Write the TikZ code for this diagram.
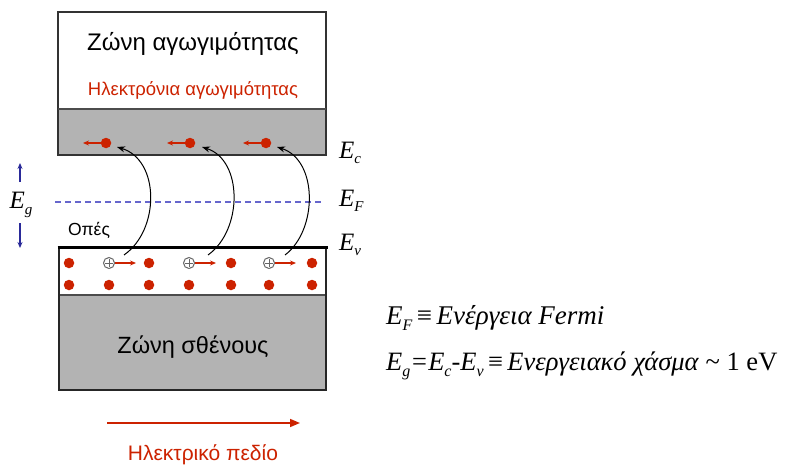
\documentclass[tikz,border=0pt]{standalone}
\usepackage{fontspec}
\setmainfont{Liberation Serif}
\newfontfamily\gsans{Liberation Sans}
\usetikzlibrary{arrows.meta}
\definecolor{myred}{HTML}{CC2200}
\definecolor{bandgray}{HTML}{B3B3B3}
\definecolor{fermiblue}{HTML}{6666CC}
\definecolor{darkblue}{HTML}{2A2A99}
\tikzset{
  elec/.style={circle,fill=myred,inner sep=0pt,minimum size=10.5pt},
  hole/.style={circle,draw=black!60,fill=white,line width=1pt,inner sep=0pt,minimum size=11pt,
    path picture={\draw[line width=0.8pt] ([xshift=-3.8pt]path picture bounding box.center)--([xshift=3.8pt]path picture bounding box.center);
                  \draw[line width=0.8pt] ([yshift=-3.8pt]path picture bounding box.center)--([yshift=3.8pt]path picture bounding box.center);}},
  redarr/.style={myred,line width=1.2pt,-{Stealth[length=6pt,width=5pt]}},
  jump/.style={black,line width=1pt,-{Stealth[length=8pt,width=6pt]}},
  elabel/.style={font=\fontsize{25}{27}\selectfont\itshape,anchor=west,inner sep=0pt},
  bandtxt/.style={font=\gsans\fontsize{23.5}{26}\selectfont,inner sep=0pt}
}
\begin{document}
\begin{tikzpicture}[x=1pt,y=-1pt]
\useasboundingbox (0,0) rectangle (786,468);
% conduction band
\fill[bandgray] (58,109) rectangle (326,155);
\draw[black!80,line width=1.5pt] (58,12) rectangle (326,155);
\draw[black!70,line width=1.2pt] (58,109) -- (326,109);
\node[bandtxt,font=\gsans\fontsize{24}{26}\selectfont] (cbt) at (193,44) {Ζώνη αγωγιμότητας};
\node[bandtxt,font=\gsans\fontsize{18.5}{20}\selectfont,text=myred] (cbe) at (193,90) {Ηλεκτρόνια αγωγιμότητας};
% valence band
\fill[bandgray] (59,295) rectangle (326,390);
\draw[black!70,line width=1.2pt] (59,295) -- (326,295);
\draw[black!85,line width=1.5pt] (59,247) -- (59,390) -- (326,390) -- (326,247);
\draw[black,line width=3pt] (57.5,247) -- (327.5,247);
\node[bandtxt] (vbt) at (193,347) {Ζώνη σθένους};
% fermi level
\draw[fermiblue,line width=1.2pt,dash pattern=on 6pt off 4pt] (55,202) -- (323,202);
% CB electrons
\foreach \i/\x in {1/106,2/190,3/266}{
  \node[elec] (ce\i) at (\x,143) {};
  \coordinate (cl\i) at (\x-23,143);
  \draw[redarr] (ce\i.west) -- (cl\i);
}
% VB row 1
\node[elec] (d1) at (69,263) {};
\node[hole] (h1) at (109,263) {};
\node[elec] (d2) at (149,263) {};
\node[hole] (h2) at (189,263) {};
\node[elec] (d3) at (231,263) {};
\node[hole] (h3) at (269,263) {};
\node[elec] (d4) at (312,263) {};
\foreach \i in {1,2,3}{
  \coordinate (hr\i) at ([xshift=27pt]h\i.center);
  \draw[redarr] (h\i.east) -- (hr\i);
}
% VB row 2
\foreach \i/\x in {1/69,2/109,3/149,4/189,5/231,6/269,7/312}{
  \node[elec] (r\i) at (\x,285) {};
}
% jumps
\draw[jump] ([shift={(15,-8)}]h1.center) .. controls (160,230) and (160,160) .. ([shift={(11,4)}]ce1.center);
\draw[jump] ([shift={(19,-8)}]h2.center) .. controls (243,230) and (243,160) .. ([shift={(12,4)}]ce2.center);
\draw[jump] ([shift={(16,-8)}]h3.center) .. controls (318,230) and (318,160) .. ([shift={(11,4)}]ce3.center);
% labels
\node[font=\gsans\fontsize{17.5}{19}\selectfont,inner sep=0pt] (ops) at (89,230) {Οπές};
\node[elabel] (ec) at (339,153) {E\raisebox{-0.45ex}{\fontsize{15}{16}\selectfont c}};
\node[elabel] (ef) at (339,201) {E\raisebox{-0.45ex}{\fontsize{15}{16}\selectfont F}};
\node[elabel] (ev) at (339,245) {E\raisebox{-0.45ex}{\fontsize{15}{16}\selectfont ν}};
\node[elabel,anchor=center] (eg) at (21,205) {E\raisebox{-0.5ex}{\fontsize{15}{16}\selectfont g}};
\coordinate (ua) at (20,182); \coordinate (ub) at (20,163);
\coordinate (da) at (20,223); \coordinate (db) at (20,248);
\draw[darkblue,line width=1.2pt,-{Stealth[length=6pt,width=5pt]}] (ua) -- (ub);
\draw[darkblue,line width=1.2pt,-{Stealth[length=6pt,width=5pt]}] (da) -- (db);
% equations
\node[anchor=west,inner sep=0pt,font=\fontsize{27}{29}\selectfont] (eq1) at (386,318)
  {\textit{E\raisebox{-0.45ex}{\fontsize{16}{17}\selectfont F}}\,≡\,\textit{Ενέργεια Fermi}};
\node[anchor=west,inner sep=0pt,font=\fontsize{26.5}{29}\selectfont] (eq2) at (386,366)
  {\textit{E\raisebox{-0.45ex}{\fontsize{16}{17}\selectfont g}=E\raisebox{-0.45ex}{\fontsize{16}{17}\selectfont c}-E\raisebox{-0.45ex}{\fontsize{16}{17}\selectfont ν}}\,≡\,\textit{Ενεργειακό χάσμα} \textasciitilde\ 1 eV};
% electric field
\coordinate (fa) at (107,423); \coordinate (fb) at (300,423);
\draw[myred,line width=1.5pt,-{Triangle[length=10pt,width=8pt]}] (fa) -- (fb);
\node[font=\gsans\fontsize{21}{23}\selectfont,text=myred,inner sep=0pt] (field) at (203,455) {Ηλεκτρικό πεδίο};
\end{tikzpicture}
\end{document}
